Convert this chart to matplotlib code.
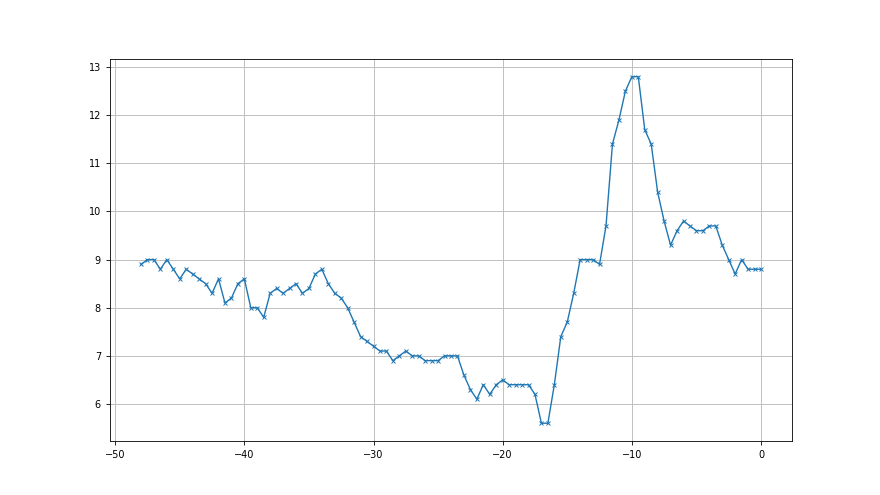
import numpy as np
import matplotlib
matplotlib.use("Agg")
import matplotlib.pyplot as plt

# x positions every half step from -48 to 0
x_start = -48.0
x_step = 0.5

values = [
    8.9, 9.0, 9.0, 8.8, 9.0, 8.8, 8.6, 8.8, 8.7, 8.6,
    8.5, 8.3, 8.6, 8.1, 8.2, 8.5, 8.6, 8.0, 8.0, 7.8,
    8.3, 8.4, 8.3, 8.4, 8.5, 8.3, 8.4, 8.7, 8.8, 8.5,
    8.3, 8.2, 8.0, 7.7, 7.4, 7.3, 7.2, 7.1, 7.1, 6.9,
    7.0, 7.1, 7.0, 7.0, 6.9, 6.9, 6.9, 7.0, 7.0, 7.0,
    6.6, 6.3, 6.1, 6.4, 6.2, 6.4, 6.5, 6.4, 6.4, 6.4,
    6.4, 6.2, 5.6, 5.6, 6.4, 7.4, 7.7, 8.3, 9.0, 9.0,
    9.0, 8.9, 9.7, 11.4, 11.9, 12.5, 12.8, 12.8, 11.7, 11.4,
    10.4, 9.8, 9.3, 9.6, 9.8, 9.7, 9.6, 9.6, 9.7, 9.7,
    9.3, 9.0, 8.7, 9.0, 8.8, 8.8, 8.8,
]
xs = x_start + x_step * np.arange(len(values))

fig, ax = plt.subplots(figsize=(8.8, 4.95), dpi=100)
ax.plot(xs, values, marker='x', color='#1f77b4', linewidth=1.0, markersize=3.5, markeredgewidth=0.7)
ax.grid(True, color='#c0c0c0', linewidth=0.7)
ax.tick_params(labelsize=7, width=0.6, length=3)
for s in ax.spines.values():
    s.set_linewidth(0.6)

plt.savefig("out.png", dpi=100)
